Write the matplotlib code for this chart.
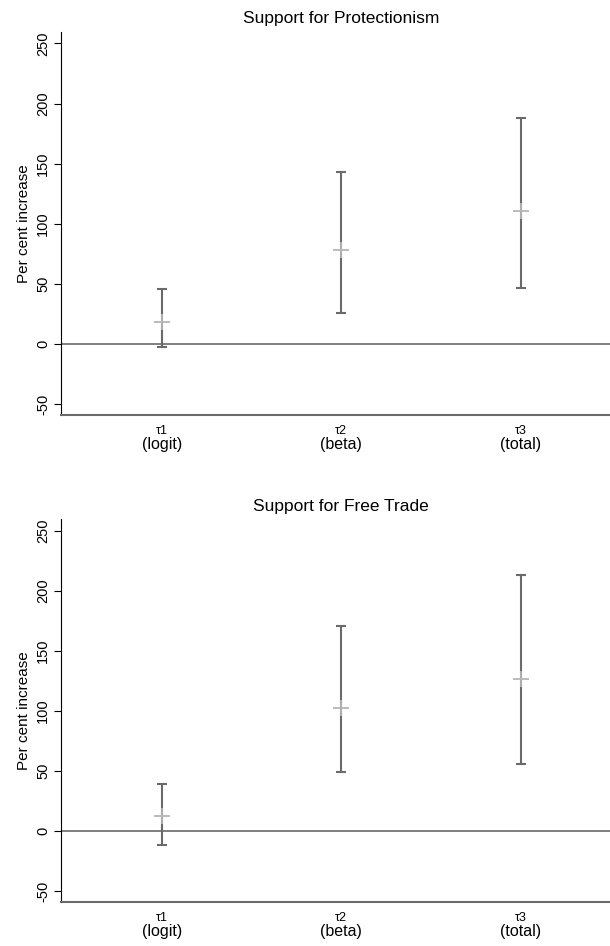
import matplotlib
matplotlib.use("Agg")
import matplotlib.pyplot as plt
import matplotlib.transforms as mtransforms

plt.rcParams['font.family'] = ['Liberation Sans', 'DejaVu Sans']

positions = [1, 2, 3]
tau_labels = ["τ1", "τ2", "τ3"]
model_labels = ["(logit)", "(beta)", "(total)"]
yticks = [-50, 0, 50, 100, 150, 200, 250]

titles = ["Support for Protectionism", "Support for Free Trade"]
# point estimates, lower and upper bounds
prot_est = [18.5, 78, 110.5]
prot_low = [-2.5, 25.5, 46.5]
prot_high = [45.5, 143, 188]
free_est = [12.5, 102.5, 127]
free_low = [-12, 49, 55.5]
free_high = [39, 171, 213]

panels = [(prot_est, prot_low, prot_high), (free_est, free_low, free_high)]

fig = plt.figure(figsize=(6.10, 9.46), dpi=100)
W, H = 610, 946
axes_px = [(31.7, 414.7), (519.0, 901.7)]
left_px, right_px = 61.3, 621.0

bar_col = '#6a6a6a'
mark_col = '#b5b5b5'

for (top, bot), title, (est, lo, hi) in zip(axes_px, titles, panels):
    ax = fig.add_axes([left_px / W, (H - bot) / H, (right_px - left_px) / W, (bot - top) / H])
    ax.set_xlim(0.44, 3.56)
    ax.set_ylim(-58.8, 259.8)
    ax.axhline(0, color=bar_col, lw=1.2, zorder=1)
    yerr = [[e - l for e, l in zip(est, lo)], [h - e for e, h in zip(est, hi)]]
    ax.errorbar(positions, est, yerr=yerr, fmt='none', ecolor=bar_col,
                elinewidth=1.5, capsize=3.5, capthick=1.5, zorder=2)
    ax.plot(positions, est, linestyle='none', marker='+', markersize=11,
            mew=1.3, color=mark_col, zorder=3)
    ax.set_yticks(yticks)
    ax.set_yticklabels([str(v) for v in yticks], rotation=90, va='center', fontsize=10.5)
    ax.tick_params(axis='y', length=5, width=0.8, pad=3)
    ax.set_xticks([])
    for s in ['top', 'right']:
        ax.spines[s].set_visible(False)
    ax.spines['left'].set_linewidth(0.8)
    ax.spines['bottom'].set_color(bar_col)
    ax.spines['bottom'].set_linewidth(1.5)
    ax.set_ylabel("Per cent increase", fontsize=11, labelpad=4)
    ax.set_title(title, fontsize=12.5, pad=6)
    trans = ax.get_xaxis_transform()
    off1 = mtransforms.offset_copy(trans, fig=fig, x=0, y=-11.5, units='points')
    off2 = mtransforms.offset_copy(trans, fig=fig, x=0, y=-21.5, units='points')
    for p, t, m in zip(positions, tau_labels, model_labels):
        ax.text(p, 0, t, transform=off1, ha='center', va='center', fontsize=9)
        ax.text(p, 0, m, transform=off2, ha='center', va='center', fontsize=11.5)

fig.savefig("out.png", dpi=100)
